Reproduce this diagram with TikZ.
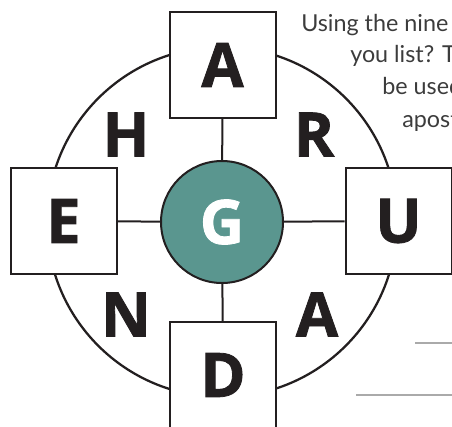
\documentclass[tikz,border=0pt]{standalone}
\usepackage{fontspec}
\setmainfont{Open Sans}
\newfontfamily\txtfont{Lato}
\newfontfamily\heavyfont{Open Sans}[BoldFeatures={FakeBold=1.3}]
\definecolor{ink}{RGB}{35,31,32}
\definecolor{teal}{RGB}{90,150,143}
\definecolor{txtgray}{RGB}{60,60,60}
\definecolor{rulegray}{RGB}{170,170,170}
\tikzset{
  bigletter/.style={font=\heavyfont\bfseries\fontsize{46}{46}\selectfont},
  letterbox/.style={bigletter, draw=ink, line width=1.5pt, fill=white, minimum size=79.5pt, inner sep=0pt, text=ink},
  freeletter/.style={bigletter, inner sep=0pt, text=ink},
  hub/.style={bigletter, circle, draw=ink, line width=1.5pt, fill=teal, minimum size=91.5pt, inner sep=0pt, text=white},
  conn/.style={draw=ink, line width=1.5pt},
  ring/.style={draw=ink, line width=1.7pt},
  intro/.style={anchor=base west, inner sep=0pt, text=txtgray, font=\txtfont\fontsize{17.5}{20}\selectfont},
  rule/.style={draw=rulegray, line width=1.5pt}
}
\begin{document}
\begin{tikzpicture}[x=0.75pt,y=-0.75pt]
\useasboundingbox (0,0) rectangle (452,426);
\clip (0,0) rectangle (452,426);
\coordinate (O) at (222,222);
\draw[ring] (O) circle[radius=131.25pt];
\node[hub] (G) at (222,222) {G};
\node[letterbox] (A) at (222.5,65) {A};
\node[letterbox] (E) at (63.5,221) {E};
\node[letterbox] (U) at (398.5,221) {U};
\node[letterbox] (D) at (223,375) {D};
\draw[conn] (A) -- (G);
\draw[conn] (E) -- (G);
\draw[conn] (U) -- (G);
\draw[conn] (D) -- (G);
\node[freeletter] (H) at (126,134.5) {H};
\node[freeletter] (R) at (314,134.5) {R};
\node[freeletter] (N) at (126,314.5) {N};
\node[freeletter] (A2) at (317,314.5) {A};
\node[intro] (t1) at (301,31) {Using the nine};
\node[intro] (t2) at (350,62) {you list? T};
\node[intro] (t3) at (382,94) {be used};
\node[intro] (t4) at (402,127) {apost};
\coordinate (r1a) at (415,343);
\coordinate (r1b) at (453,343);
\coordinate (r2a) at (356,395);
\coordinate (r2b) at (453,395);
\draw[rule] (r1a) -- (r1b);
\draw[rule] (r2a) -- (r2b);
\end{tikzpicture}
\end{document}
